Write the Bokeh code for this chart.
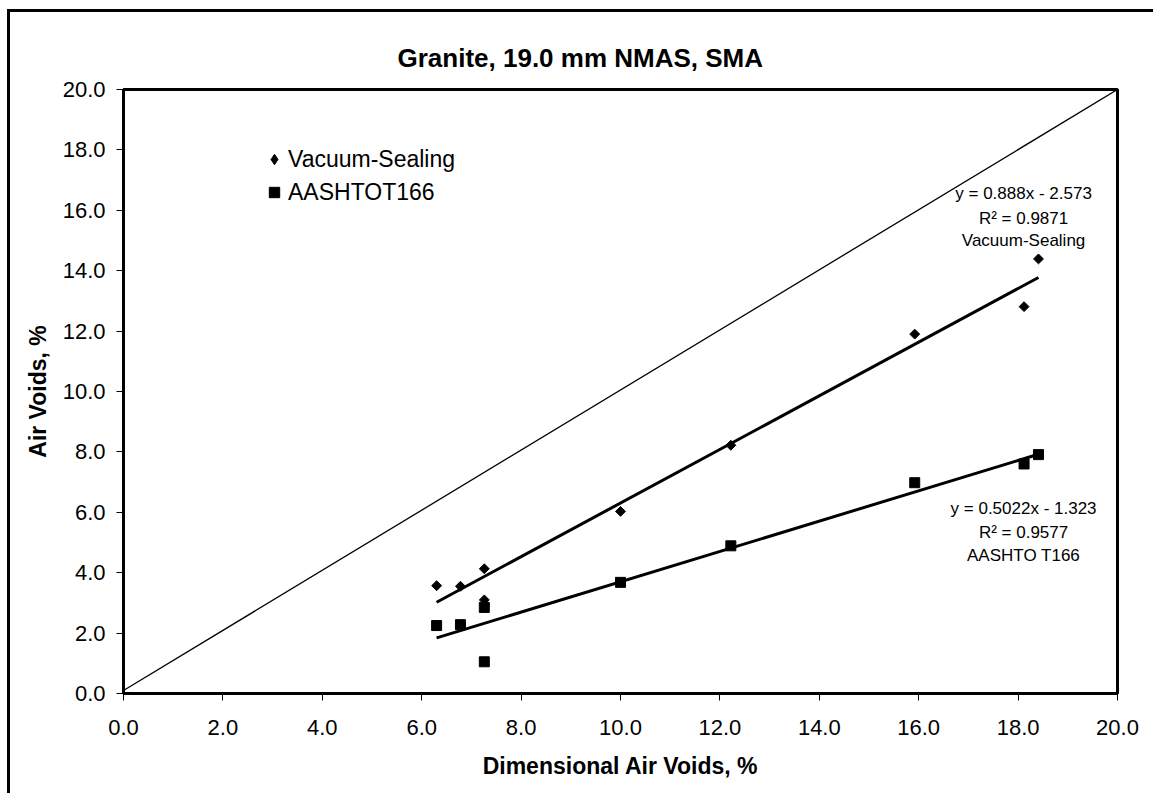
import math
from bokeh.plotting import figure
from bokeh.models import Range1d, FixedTicker, NumeralTickFormatter, Label, Legend, LegendItem
from bokeh.embed import file_html
from bokeh.resources import INLINE

# ---- data ----
vac_x = [6.30, 6.78, 7.26, 7.26, 10.00, 12.22, 15.92, 18.12, 18.41]
vac_y = [3.57, 3.55, 4.13, 3.10, 6.03, 8.22, 11.90, 12.81, 14.39]
aash_x = [6.30, 6.78, 7.26, 7.26, 10.00, 12.22, 15.92, 18.12, 18.41]
aash_y = [2.25, 2.28, 2.85, 1.05, 3.68, 4.89, 6.98, 7.60, 7.91]

vac_slope, vac_icpt = 0.888, -2.573
aash_slope, aash_icpt = 0.5022, -1.323

equality_x = [0.0, 20.0]
equality_y = [0.1, 20.0]

ticks = [0, 2, 4, 6, 8, 10, 12, 14, 16, 18, 20]

title_text = "Granite, 19.0 mm NMAS, SMA"
x_title = "Dimensional Air Voids, %"
y_title = "Air Voids, %"
vac_name = "Vacuum-Sealing"
aash_name = "AASHTOT166"
vac_eq = ["y = 0.888x - 2.573", "R\u00b2 = 0.9871", "Vacuum-Sealing"]
aash_eq = ["y = 0.5022x - 1.323", "R\u00b2 = 0.9577", "AASHTO T166"]

FONT = "Liberation Sans"

p = figure(width=1146, height=784, output_backend="svg", toolbar_location=None,
           x_range=Range1d(0, 20), y_range=Range1d(0, 20),
           min_border_left=116, min_border_right=36, min_border_top=80, min_border_bottom=100)
p.styles = {"margin-left": "7px", "margin-top": "9px",
            "box-shadow": "inset 3px 3px 0 0 black"}
p.background_fill_color = "white"
p.border_fill_alpha = 0
p.grid.visible = False
p.outline_line_color = "black"
p.outline_line_width = 3

p.title.text = title_text
p.title.text_font = FONT
p.title.text_font_size = "26px"
p.title.text_font_style = "bold"
p.title.text_color = "black"
p.title.align = "left"
p.title.offset = 274
p.title.standoff = 33

for ax in (p.xaxis[0], p.yaxis[0]):
    ax.ticker = FixedTicker(ticks=ticks)
    ax.formatter = NumeralTickFormatter(format="0.0")
    ax.axis_line_width = 3
    ax.axis_line_color = "black"
    ax.major_tick_line_color = "black"
    ax.major_tick_line_width = 1
    ax.major_tick_out = 7
    ax.major_tick_in = 0
    ax.minor_tick_line_color = None
    ax.major_label_text_font = FONT
    ax.major_label_text_font_size = "22px"
    ax.major_label_text_color = "black"
    ax.axis_label_text_font = FONT
    ax.axis_label_text_font_size = "23px"
    ax.axis_label_text_font_style = "bold"
    ax.axis_label_text_color = "black"

p.xaxis[0].axis_label = x_title
p.yaxis[0].axis_label = y_title
p.xaxis[0].major_label_standoff = 19
p.yaxis[0].major_label_standoff = 11
p.xaxis[0].axis_label_standoff = 15
p.yaxis[0].axis_label_standoff = 9

# line of equality
p.line(equality_x, equality_y, line_color="black", line_width=1.3)

# trend lines from the printed regression coefficients over the data range
vx0, vx1 = min(vac_x), max(vac_x)
p.line([vx0, vx1], [vac_slope * vx0 + vac_icpt, vac_slope * vx1 + vac_icpt], line_color="black", line_width=3)
ax0, ax1 = min(aash_x), max(aash_x)
p.line([ax0, ax1], [aash_slope * ax0 + aash_icpt, aash_slope * ax1 + aash_icpt], line_color="black", line_width=3)

r_vac = p.scatter(vac_x, vac_y, marker="square", angle=math.pi / 4, size=7,
                  fill_color="black", line_color="black")
r_aash = p.scatter(aash_x, aash_y, marker="square", size=10,
                   fill_color="black", line_color="black")
# hidden diamond renderer used only for the legend key (legend glyphs ignore marker angle)
r_vac_key = p.scatter(vac_x, vac_y, marker="diamond", size=10,
                      fill_color="black", line_color="black", visible=False)

legend = Legend(items=[LegendItem(label=vac_name, renderers=[r_vac_key]),
                       LegendItem(label=aash_name, renderers=[r_aash])],
                location=(138, 487), orientation="vertical")
legend.background_fill_alpha = 0
legend.border_line_color = None
legend.label_text_font = FONT
legend.label_text_font_size = "23px"
legend.label_text_color = "black"
legend.glyph_width = 26
legend.glyph_height = 26
legend.label_height = 28
legend.label_standoff = 1
legend.spacing = 5
legend.padding = 0
legend.margin = 0
p.add_layout(legend, "center")

# regression annotations
for t, yy in zip(vac_eq, [16.56, 15.73, 15.0]):
    p.add_layout(Label(x=18.11, y=yy, text=t, text_font=FONT, text_font_size="17px",
                       text_align="center", text_baseline="middle", text_color="black"))
for t, yy in zip(aash_eq, [6.12, 5.32, 4.56]):
    p.add_layout(Label(x=18.11, y=yy, text=t, text_font=FONT, text_font_size="17px",
                       text_align="center", text_baseline="middle", text_color="black"))

open("out.html", "w").write(file_html(p, INLINE))
